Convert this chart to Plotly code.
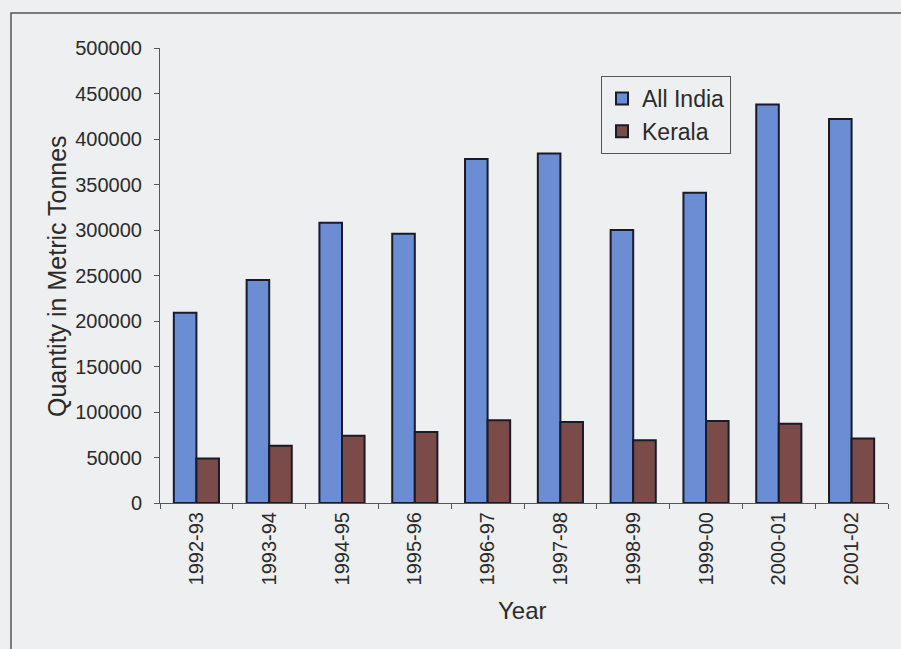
import plotly.graph_objects as go

years = ["1992-93", "1993-94", "1994-95", "1995-96", "1996-97",
         "1997-98", "1998-99", "1999-00", "2000-01", "2001-02"]
all_india = [209000, 245000, 308000, 296000, 378000,
             384000, 300000, 341000, 438000, 422000]
kerala = [49000, 63000, 74000, 78000, 91000,
          89000, 69000, 90000, 87000, 71000]
y_ticks = [0, 50000, 100000, 150000, 200000, 250000,
           300000, 350000, 400000, 450000, 500000]
y_tick_text = [str(v) for v in y_ticks]

BG = "#EDEFF0"
FONT = "Arial, Liberation Sans, sans-serif"
TXT = "#2b2b2b"

fig = go.Figure()
fig.add_trace(go.Bar(x=years, y=all_india, name="All India",
                     marker=dict(color="#6A8DD3", line=dict(color="#1a1a28", width=2))))
fig.add_trace(go.Bar(x=years, y=kerala, name="Kerala",
                     marker=dict(color="#7A4B48", line=dict(color="#1a1a28", width=2))))

L, R, T, B = 160, 13, 48, 146
W, H = 901, 649
pw, ph = W - L - R, H - T - B

def px_x(x):
    return (x - L) / pw

def px_y(y):
    return (H - B - y) / ph

fig.update_layout(
    width=W, height=H,
    margin=dict(l=L, r=R, t=T, b=B),
    paper_bgcolor=BG, plot_bgcolor=BG,
    font=dict(family=FONT, color=TXT, size=19),
    barmode="group", bargap=0.38, bargroupgap=0,
    showlegend=True,
    legend=dict(x=px_x(601), y=px_y(76), xanchor="left", yanchor="top",
                bgcolor=BG, bordercolor="#555555", borderwidth=1,
                font=dict(size=23, family=FONT, color=TXT),
                itemwidth=30, tracegroupgap=4),
    xaxis=dict(type="category", showline=True, linecolor="#555555", linewidth=1,
               ticks="outside", tickson="boundaries", ticklen=5, tickcolor="#555555",
               tickangle=-90, tickfont=dict(size=20, family=FONT, color=TXT),
               showgrid=False, zeroline=False),
    yaxis=dict(range=[0, 500000], showline=True, linecolor="#555555", linewidth=1,
               ticks="outside", ticklen=5, tickcolor="#555555",
               tickvals=y_ticks, ticktext=y_tick_text, ticklabelstandoff=8,
               tickfont=dict(size=20, family=FONT, color=TXT),
               showgrid=False, zeroline=False),
    shapes=[dict(type="rect", xref="paper", yref="paper",
                 x0=px_x(11), y0=px_y(680), x1=px_x(930), y1=px_y(13),
                 line=dict(color="#555555", width=1.5), fillcolor="rgba(0,0,0,0)",
                 layer="below")],
    annotations=[
        dict(text="Quantity in Metric Tonnes", xref="paper", yref="paper",
             x=px_x(57), y=px_y(276), textangle=-90, showarrow=False,
             font=dict(size=25, family=FONT, color=TXT), xanchor="center", yanchor="middle"),
        dict(text="Year", xref="paper", yref="paper",
             x=px_x(522), y=px_y(610), showarrow=False,
             font=dict(size=24, family=FONT, color=TXT), xanchor="center", yanchor="middle"),
    ],
)

fig.write_html("out.html")
